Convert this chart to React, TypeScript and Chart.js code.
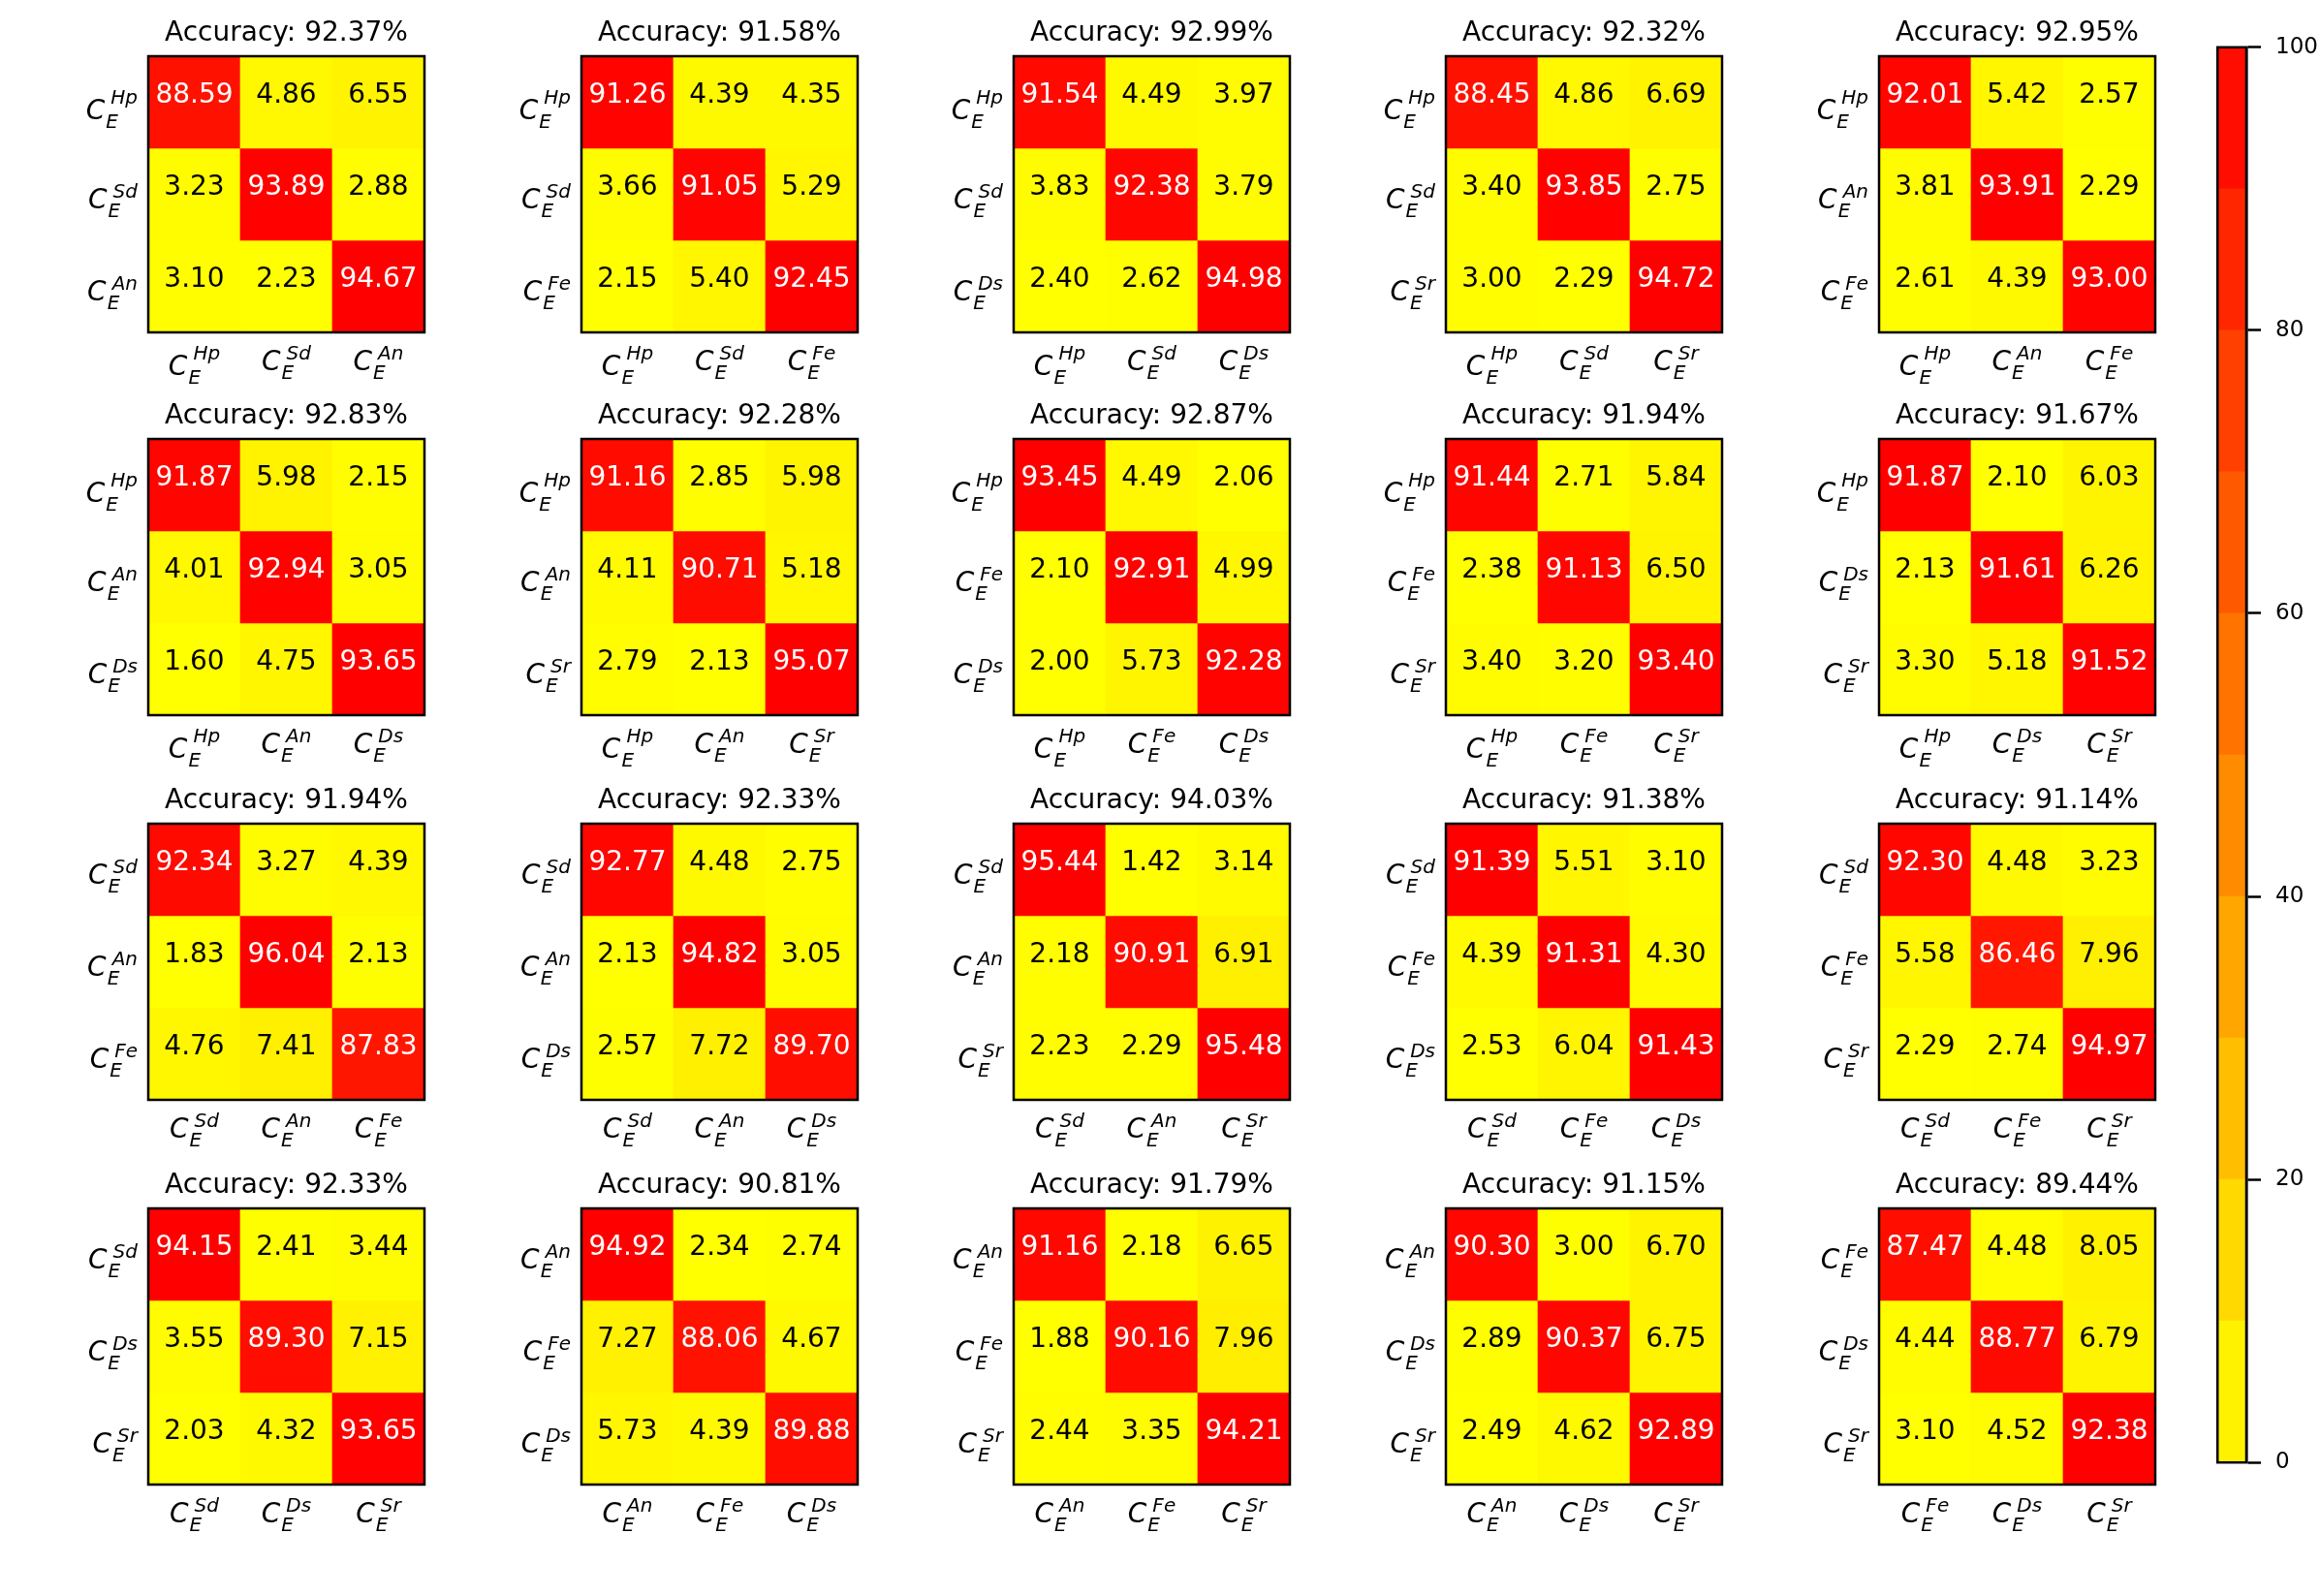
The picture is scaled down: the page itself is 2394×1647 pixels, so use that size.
import React, { useEffect, useRef } from 'react';
import { Chart, registerables } from 'chart.js';

Chart.register(...registerables);

// ---------------- DATA ----------------
const accuracies: number[] = [
  92.37, 91.58, 92.99, 92.32, 92.95,
  92.83, 92.28, 92.87, 91.94, 91.67,
  91.94, 92.33, 94.03, 91.38, 91.14,
  92.33, 90.81, 91.79, 91.15, 89.44,
];

const labelSets: string[][] = [
  ['Hp', 'Sd', 'An'], ['Hp', 'Sd', 'Fe'], ['Hp', 'Sd', 'Ds'], ['Hp', 'Sd', 'Sr'], ['Hp', 'An', 'Fe'],
  ['Hp', 'An', 'Ds'], ['Hp', 'An', 'Sr'], ['Hp', 'Fe', 'Ds'], ['Hp', 'Fe', 'Sr'], ['Hp', 'Ds', 'Sr'],
  ['Sd', 'An', 'Fe'], ['Sd', 'An', 'Ds'], ['Sd', 'An', 'Sr'], ['Sd', 'Fe', 'Ds'], ['Sd', 'Fe', 'Sr'],
  ['Sd', 'Ds', 'Sr'], ['An', 'Fe', 'Ds'], ['An', 'Fe', 'Sr'], ['An', 'Ds', 'Sr'], ['Fe', 'Ds', 'Sr'],
];

const matrices: number[][][] = [
  [[88.59, 4.86, 6.55], [3.23, 93.89, 2.88], [3.10, 2.23, 94.67]],
  [[91.26, 4.39, 4.35], [3.66, 91.05, 5.29], [2.15, 5.40, 92.45]],
  [[91.54, 4.49, 3.97], [3.83, 92.38, 3.79], [2.40, 2.62, 94.98]],
  [[88.45, 4.86, 6.69], [3.40, 93.85, 2.75], [3.00, 2.29, 94.72]],
  [[92.01, 5.42, 2.57], [3.81, 93.91, 2.29], [2.61, 4.39, 93.00]],
  [[91.87, 5.98, 2.15], [4.01, 92.94, 3.05], [1.60, 4.75, 93.65]],
  [[91.16, 2.85, 5.98], [4.11, 90.71, 5.18], [2.79, 2.13, 95.07]],
  [[93.45, 4.49, 2.06], [2.10, 92.91, 4.99], [2.00, 5.73, 92.28]],
  [[91.44, 2.71, 5.84], [2.38, 91.13, 6.50], [3.40, 3.20, 93.40]],
  [[91.87, 2.10, 6.03], [2.13, 91.61, 6.26], [3.30, 5.18, 91.52]],
  [[92.34, 3.27, 4.39], [1.83, 96.04, 2.13], [4.76, 7.41, 87.83]],
  [[92.77, 4.48, 2.75], [2.13, 94.82, 3.05], [2.57, 7.72, 89.70]],
  [[95.44, 1.42, 3.14], [2.18, 90.91, 6.91], [2.23, 2.29, 95.48]],
  [[91.39, 5.51, 3.10], [4.39, 91.31, 4.30], [2.53, 6.04, 91.43]],
  [[92.30, 4.48, 3.23], [5.58, 86.46, 7.96], [2.29, 2.74, 94.97]],
  [[94.15, 2.41, 3.44], [3.55, 89.30, 7.15], [2.03, 4.32, 93.65]],
  [[94.92, 2.34, 2.74], [7.27, 88.06, 4.67], [5.73, 4.39, 89.88]],
  [[91.16, 2.18, 6.65], [1.88, 90.16, 7.96], [2.44, 3.35, 94.21]],
  [[90.30, 3.00, 6.70], [2.89, 90.37, 6.75], [2.49, 4.62, 92.89]],
  [[87.47, 4.48, 8.05], [4.44, 88.77, 6.79], [3.10, 4.52, 92.38]],
];

const colorbarBinEdges: number[] = [0, 10, 20, 30, 40, 50, 60, 70, 80, 90, 100];
const colorbarTicks: number[] = [0, 20, 40, 60, 80, 100];

// ---------------- LAYOUT / STYLE ----------------
const FONT = "'DejaVu Sans'";
const COL_LEFT = [153, 600, 1046, 1492, 1939];
const ROW_TOP = [58, 453, 850, 1247];
const SIZE = 285;
const PAD = { left: 110, top: 60, right: 40, bottom: 60 };
const CW = PAD.left + SIZE + PAD.right;
const CH = PAD.top + SIZE + PAD.bottom;

const CB_LEFT = 2287;
const CB_TOP = 44;
const CB_W = 31;
const CB_H = 1470;
const CB_AXIS_W = 100;
const CB_PAD_V = 24;

function autumnR(t: number): string {
  const tt = Math.max(0, Math.min(1, t));
  const g = Math.round(255 * (1 - tt));
  return `rgb(255,${g},0)`;
}

function drawMathLabel(
  ctx: CanvasRenderingContext2D,
  sup: string,
  x: number,
  baseline: number,
  align: 'center' | 'right'
) {
  const big = `italic 28px ${FONT}`;
  const small = `italic 20px ${FONT}`;
  ctx.font = big;
  const wc = ctx.measureText('C').width;
  ctx.font = small;
  const ws = ctx.measureText(sup).width;
  const we = ctx.measureText('E').width;
  const supX = wc + 6;
  const subX = wc + 1;
  const total = Math.max(supX + ws, subX + we);
  const x0 = align === 'center' ? x - total / 2 : x - total;
  const desc = /[pgyqj]/.test(sup);
  ctx.textAlign = 'left';
  ctx.textBaseline = 'alphabetic';
  ctx.fillStyle = '#000';
  ctx.font = big;
  ctx.fillText('C', x0, baseline);
  ctx.font = small;
  ctx.fillText(sup, x0 + supX, baseline - (desc ? 16 : 10.5));
  ctx.fillText('E', x0 + subX, baseline + 9);
}

function makeMatrixPlugin(k: number) {
  const values = matrices[k];
  const labels = labelSets[k];
  const acc = accuracies[k];
  const flat = values.flat();
  const mn = Math.min(...flat);
  const mx = Math.max(...flat);
  return {
    id: 'matrixDecor' + k,
    afterDatasetsDraw(chart: any) {
      const { ctx, chartArea } = chart;
      const { left, right, top, bottom } = chartArea;
      ctx.save();
      // cell numbers
      ctx.font = `28px ${FONT}`;
      ctx.textAlign = 'center';
      ctx.textBaseline = 'alphabetic';
      chart.data.datasets.forEach((_ds: any, i: number) => {
        const meta = chart.getDatasetMeta(i);
        meta.data.forEach((el: any, j: number) => {
          const p = el.getProps(['x', 'y', 'base'], true);
          const cy = (p.y + p.base) / 2;
          const v = values[i][j];
          const t = (v - mn) / (mx - mn);
          ctx.fillStyle = t > 0.5 ? '#ffffff' : '#000000';
          ctx.fillText(v.toFixed(2), p.x, cy);
        });
      });
      // frame
      ctx.lineWidth = 2.5;
      ctx.strokeStyle = '#000';
      ctx.strokeRect(left, top, right - left, bottom - top);
      // title
      ctx.fillStyle = '#000';
      ctx.font = `28px ${FONT}`;
      ctx.textAlign = 'center';
      ctx.fillText(`Accuracy: ${acc.toFixed(2)}%`, (left + right) / 2, top - 16);
      // x labels
      const xs = chart.scales.x;
      labels.forEach((lab: string, j: number) => {
        const px = xs.getPixelForValue(j);
        const desc = /[pgyqj]/.test(lab);
        drawMathLabel(ctx, lab, px, bottom + (desc ? 44 : 38.5), 'center');
      });
      // y labels
      const ys = chart.scales.y;
      labels.forEach((lab: string, i: number) => {
        const py = ys.getPixelForValue(i + 0.5);
        const desc = /[pgyqj]/.test(lab);
        drawMathLabel(ctx, lab, left - 11, py + (desc ? 17 : 14), 'right');
      });
      ctx.restore();
    },
  };
}

function makeMatrixConfig(k: number): any {
  const values = matrices[k];
  const labels = labelSets[k];
  const flat = values.flat();
  const mn = Math.min(...flat);
  const mx = Math.max(...flat);
  return {
    type: 'bar',
    data: {
      labels: labels,
      datasets: values.map((row) => ({
        data: row.map(() => 1),
        backgroundColor: row.map((v) => autumnR((v - mn) / (mx - mn))),
        borderWidth: 0,
        barPercentage: 1,
        categoryPercentage: 1,
        stack: 's',
      })),
    },
    options: {
      animation: false,
      responsive: false,
      maintainAspectRatio: false,
      devicePixelRatio: 1,
      events: [],
      layout: { padding: PAD },
      plugins: { legend: { display: false }, tooltip: { enabled: false }, title: { display: false } },
      scales: {
        x: { display: false, stacked: true, grid: { display: false } },
        y: { display: false, stacked: true, min: 0, max: 3, reverse: true, grid: { display: false } },
      },
    },
    plugins: [makeMatrixPlugin(k)],
  };
}

function makeColorbarConfig(): any {
  const bins = colorbarBinEdges.slice(0, -1).map((e, i) => ({
    start: e,
    width: colorbarBinEdges[i + 1] - e,
  }));
  return {
    type: 'bar',
    data: {
      labels: ['cb'],
      datasets: bins.map((b) => ({
        data: [b.width],
        backgroundColor: autumnR((b.start + b.width / 2) / 100),
        borderWidth: 0,
        barPercentage: 1,
        categoryPercentage: 1,
        stack: 'cb',
      })),
    },
    options: {
      animation: false,
      responsive: false,
      maintainAspectRatio: false,
      devicePixelRatio: 1,
      events: [],
      layout: { padding: { left: 0, right: 0, top: CB_PAD_V, bottom: CB_PAD_V } },
      plugins: { legend: { display: false }, tooltip: { enabled: false } },
      scales: {
        x: { display: false, stacked: true },
        y: {
          position: 'right',
          stacked: true,
          min: 0,
          max: 100,
          afterFit: (scale: any) => {
            scale.width = CB_AXIS_W;
          },
          afterBuildTicks: (scale: any) => {
            scale.ticks = colorbarTicks.map((v) => ({ value: v }));
          },
          ticks: {
            color: '#000',
            padding: 15,
            font: { family: FONT, size: 23 },
            callback: (v: any) => String(v),
          },
          grid: {
            display: true,
            drawOnChartArea: false,
            drawTicks: true,
            tickLength: 15,
            tickWidth: 2.5,
            tickColor: '#000',
          },
          border: { display: true, color: '#000', width: 2.5 },
        },
      },
    },
    plugins: [
      {
        id: 'cbFrame',
        afterDraw(chart: any) {
          const { ctx, chartArea } = chart;
          ctx.save();
          ctx.lineWidth = 2.5;
          ctx.strokeStyle = '#000';
          ctx.strokeRect(chartArea.left + 1.25, chartArea.top, chartArea.right - chartArea.left - 1.25, chartArea.bottom - chartArea.top);
          ctx.restore();
        },
      },
    ],
  };
}

export default function App() {
  const refs = useRef<(HTMLCanvasElement | null)[]>([]);
  const cbRef = useRef<HTMLCanvasElement | null>(null);

  useEffect(() => {
    document.body.style.margin = '0';
    const charts: Chart[] = [];
    matrices.forEach((_m, k) => {
      const canvas = refs.current[k];
      if (canvas) charts.push(new Chart(canvas, makeMatrixConfig(k)));
    });
    if (cbRef.current) charts.push(new Chart(cbRef.current, makeColorbarConfig()));
    return () => {
      charts.forEach((c) => c.destroy());
    };
  }, []);

  return (
    <div
      style={{
        position: 'absolute',
        left: 0,
        top: 0,
        width: 2394,
        height: 1647,
        background: '#ffffff',
        overflow: 'hidden',
      }}
    >
      {matrices.map((_m, k) => {
        const r = Math.floor(k / 5);
        const c = k % 5;
        return (
          <canvas
            key={k}
            ref={(el) => {
              refs.current[k] = el;
            }}
            width={CW}
            height={CH}
            style={{
              position: 'absolute',
              left: COL_LEFT[c] - PAD.left,
              top: ROW_TOP[r] - PAD.top,
              width: CW,
              height: CH,
            }}
          />
        );
      })}
      <canvas
        ref={cbRef}
        width={CB_W + CB_AXIS_W}
        height={CB_H + 2 * CB_PAD_V}
        style={{
          position: 'absolute',
          left: CB_LEFT,
          top: CB_TOP - CB_PAD_V,
          width: CB_W + CB_AXIS_W,
          height: CB_H + 2 * CB_PAD_V,
        }}
      />
    </div>
  );
}
